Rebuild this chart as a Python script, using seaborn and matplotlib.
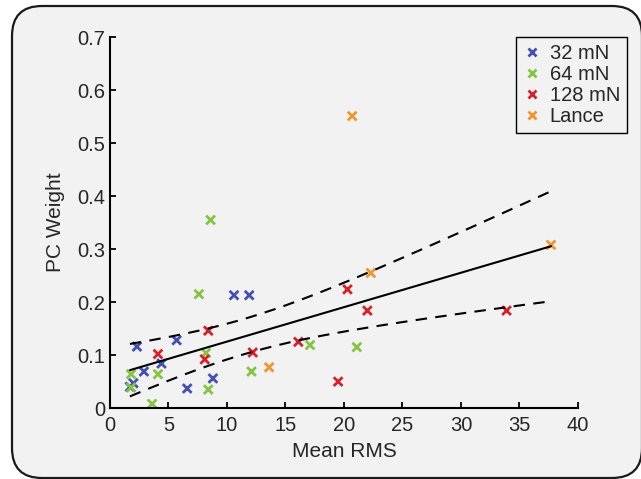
import numpy as np
import pandas as pd
import matplotlib
matplotlib.use('Agg')
import matplotlib.pyplot as plt
from matplotlib.patches import FancyBboxPatch
import seaborn as sns

# --- data ---
x_32  = [2.3, 2.0, 1.7, 2.9, 4.4, 5.7, 6.6, 8.8, 10.6, 11.9]
y_32  = [0.116, 0.047, 0.040, 0.069, 0.084, 0.128, 0.037, 0.056, 0.213, 0.213]
x_64  = [1.8, 1.8, 3.6, 4.1, 7.6, 8.2, 8.4, 8.6, 12.1, 17.1, 21.1]
y_64  = [0.064, 0.039, 0.008, 0.064, 0.215, 0.104, 0.035, 0.355, 0.069, 0.119, 0.115]
x_128 = [4.1, 8.4, 8.1, 12.2, 16.1, 19.5, 20.3, 22.0, 33.9]
y_128 = [0.102, 0.146, 0.092, 0.105, 0.125, 0.050, 0.224, 0.184, 0.184]
x_lance = [13.6, 22.3, 37.7, 20.7]
y_lance = [0.077, 0.255, 0.308, 0.551]

groups = ['32 mN', '64 mN', '128 mN', 'Lance']
colors = ['#4050b4', '#84c441', '#d9202a', '#ef962e']

df = pd.concat([
    pd.DataFrame({'rms': x_32, 'w': y_32, 'group': '32 mN'}),
    pd.DataFrame({'rms': x_64, 'w': y_64, 'group': '64 mN'}),
    pd.DataFrame({'rms': x_128, 'w': y_128, 'group': '128 mN'}),
    pd.DataFrame({'rms': x_lance, 'w': y_lance, 'group': 'Lance'}),
], ignore_index=True)

# linear fit with 95% confidence band of the mean
x = df['rms'].values
y = df['w'].values
n = len(x)
b1, b0 = np.polyfit(x, y, 1)
resid = y - (b0 + b1 * x)
s = np.sqrt(np.sum(resid ** 2) / (n - 2))
sxx = np.sum((x - x.mean()) ** 2)
xf = np.linspace(x.min(), x.max(), 200)
yf = b0 + b1 * xf
half = 2.037 * s * np.sqrt(1.0 / n + (xf - x.mean()) ** 2 / sxx)

sns.set_style('ticks')
plt.rcParams['font.family'] = ['Liberation Sans', 'DejaVu Sans']
plt.rcParams['xtick.direction'] = 'in'
plt.rcParams['ytick.direction'] = 'in'
TXT = '#262626'

fig = plt.figure(figsize=(6.41, 4.79), dpi=100)
fig.patch.set_facecolor('white')
# rounded background box, right edge just off the canvas like the original
bg = FancyBboxPatch((0.12, 0.01), 6.30, 4.72,
                    boxstyle='round,pad=0,rounding_size=0.30',
                    transform=fig.dpi_scale_trans, facecolor='#f2f2f2',
                    edgecolor='#1a1a1a', linewidth=1.6, zorder=-1)
fig.patches.append(bg)

ax = fig.add_axes([0.1716, 0.148, 0.730, 0.7745])
ax.patch.set_alpha(0)

sns.lineplot(x=xf, y=yf, color='black', linewidth=1.5, ax=ax)
for band in (yf + half, yf - half):
    sns.lineplot(x=xf, y=band, color='black', linewidth=1.5, ax=ax,
                 linestyle=(0, (5.5, 4)))

sns.scatterplot(data=df, x='rms', y='w', hue='group', hue_order=groups,
                palette=colors, marker='x', s=40, linewidth=2, ax=ax)

ax.set_xlim(0, 40)
ax.set_ylim(0, 0.7)
ax.set_xticks(np.arange(0, 41, 5))
ax.set_yticks(np.arange(0, 0.71, 0.1))
ax.set_yticklabels(['0', '0.1', '0.2', '0.3', '0.4', '0.5', '0.6', '0.7'])
ax.tick_params(labelsize=14.5, colors=TXT, length=4, width=1.3)
ax.tick_params(axis='x', pad=6)
ax.tick_params(axis='y', pad=3.5)
ax.tick_params(color='black')
ax.set_xlabel('Mean RMS', fontsize=15, color=TXT, labelpad=5)
ax.set_ylabel('PC Weight', fontsize=15, color=TXT, labelpad=9)
sns.despine(ax=ax)
for sp in ('left', 'bottom'):
    ax.spines[sp].set_linewidth(1.5)
    ax.spines[sp].set_color('black')

handles, labels = ax.get_legend_handles_labels()
leg = ax.legend(handles[-4:], labels[-4:], loc='upper right', fontsize=14.5,
                fancybox=False, framealpha=1, facecolor='#f2f2f2',
                edgecolor='black', handletextpad=0.5, borderaxespad=0.0,
                borderpad=0.35, labelspacing=0.1, handlelength=0.8,
                bbox_to_anchor=(1.105, 1.0))
leg.get_frame().set_linewidth(1.0)
for t in leg.get_texts():
    t.set_color(TXT)

fig.savefig('out.png', dpi=100)
